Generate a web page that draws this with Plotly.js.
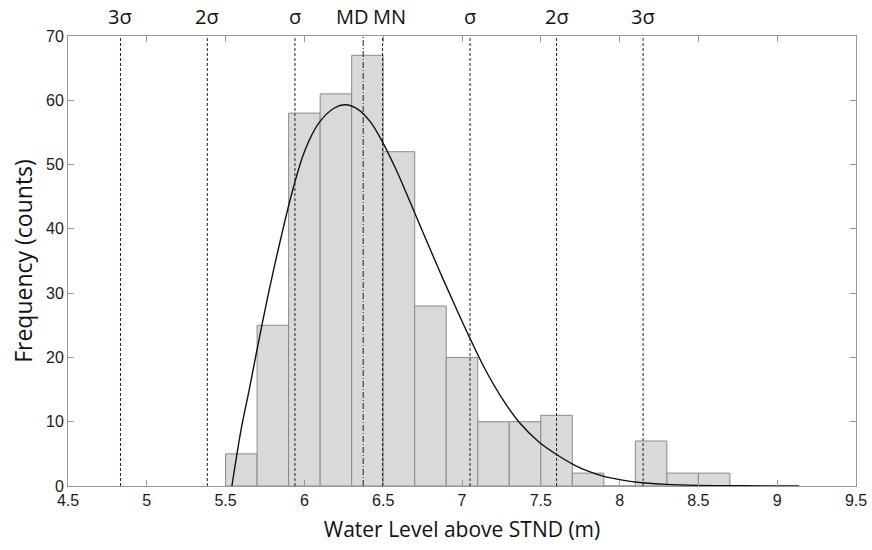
<!DOCTYPE html>
<html>
<head>
<meta charset="utf-8">
<script src="https://cdn.plot.ly/plotly-3.0.1.min.js"></script>
<style>html,body{margin:0;padding:0;background:#fff;}#chart{width:872px;height:550px;}</style>
</head>
<body>
<div id="chart"></div>
<script>
// Histogram bins (left edges, m) and counts
const binLeft = [5.5, 5.7, 5.9, 6.1, 6.3, 6.5, 6.7, 6.9, 7.1, 7.3, 7.5, 7.7, 7.9, 8.1, 8.3, 8.5];
const counts  = [5, 25, 58, 61, 67, 52, 28, 20, 10, 10, 11, 2, 0, 7, 2, 2];
const binWidth = 0.2;

// Fitted curve
const curveX = [5.54, 5.60, 5.65, 5.73, 5.79, 5.85, 5.92, 6.00, 6.09, 6.19, 6.26, 6.34, 6.42, 6.50, 6.58, 6.66, 6.76, 6.86, 6.96, 7.05, 7.15, 7.25, 7.36, 7.49, 7.60, 7.71, 7.80, 7.90, 8.00, 8.13, 8.30, 8.50, 8.80, 9.14];
const curveY = [0, 9, 15, 25, 32, 38.5, 45.5, 52, 56.4, 58.8, 59.3, 58.6, 56.6, 53.3, 49.3, 44.8, 39, 33.3, 27.8, 23, 18, 13.8, 10, 6.8, 4.9, 3.3, 2.3, 1.5, 1.0, 0.55, 0.25, 0.1, 0.03, 0];

// Reference lines
const sigmaX = [4.833, 5.384, 5.940, 7.051, 7.600, 8.149];
const sigmaLabels = ['3σ', '2σ', 'σ', 'σ', '2σ', '3σ'];
const medianX = 6.373;
const meanX = 6.496;

// Axis ticks
const xTicks = [4.5, 5, 5.5, 6, 6.5, 7, 7.5, 8, 8.5, 9, 9.5];
const xTickText = ['4.5', '5', '5.5', '6', '6.5', '7', '7.5', '8', '8.5', '9', '9.5'];
const yTicks = [0, 10, 20, 30, 40, 50, 60, 70];

const barX = binLeft.map(v => v + binWidth / 2);

const traces = [
  {
    type: 'bar', x: barX, y: counts, width: binWidth,
    marker: {color: '#d9d9d9', line: {color: '#8a8a8a', width: 1}},
    hoverinfo: 'skip'
  },
  {
    type: 'scatter', mode: 'lines', x: curveX, y: curveY,
    line: {color: '#111', width: 1.4, shape: 'spline', smoothing: 1},
    hoverinfo: 'skip'
  }
];

const shapes = [];
sigmaX.forEach(v => shapes.push({
  type: 'line', xref: 'x', yref: 'paper', x0: v, x1: v, y0: 0, y1: 1,
  line: {color: '#222', width: 1, dash: '3px,2px'}
}));
shapes.push({type: 'line', xref: 'x', yref: 'paper', x0: medianX, x1: medianX, y0: 0, y1: 1,
  line: {color: '#222', width: 1, dash: '6px,2px,1px,2px'}});
shapes.push({type: 'line', xref: 'x', yref: 'paper', x0: meanX, x1: meanX, y0: 0, y1: 1,
  line: {color: '#222', width: 1, dash: '3px,2px'}});

const topFont = {family: 'Open Sans, sans-serif', size: 20, color: '#111'};
const annotations = sigmaX.map((v, i) => ({
  x: v, y: 1, xref: 'x', yref: 'paper', text: sigmaLabels[i], showarrow: false,
  xanchor: 'center', yanchor: 'middle', yshift: 20, font: topFont
}));
annotations.push({x: medianX, y: 1, xref: 'x', yref: 'paper', text: 'MD', showarrow: false,
  xanchor: 'center', yanchor: 'middle', yshift: 20, xshift: -11, font: topFont});
annotations.push({x: meanX, y: 1, xref: 'x', yref: 'paper', text: 'MN', showarrow: false,
  xanchor: 'center', yanchor: 'middle', yshift: 20, xshift: 7, font: topFont});

const tickFont = {family: 'Liberation Sans, Arial, sans-serif', size: 16, color: '#1a1a1a'};

const layout = {
  width: 872, height: 550,
  margin: {l: 68, r: 16, t: 36, b: 64},
  paper_bgcolor: '#fff', plot_bgcolor: '#fff',
  showlegend: false,
  bargap: 0,
  xaxis: {
    range: [4.5, 9.5], tickmode: 'array', tickvals: xTicks, ticktext: xTickText,
    ticks: 'inside', ticklen: 6, tickcolor: '#999', tickwidth: 1,
    showline: true, linecolor: '#999', linewidth: 1, mirror: 'ticks',
    showgrid: false, zeroline: false, tickfont: tickFont, ticklabelstandoff: 0,
    title: {text: 'Water Level above STND (m)', font: {family: 'Open Sans, sans-serif', size: 21, color: '#111'}, standoff: 14}
  },
  yaxis: {
    range: [0, 70], tickmode: 'array', tickvals: yTicks,
    ticks: 'inside', ticklen: 6, tickcolor: '#999', tickwidth: 1,
    showline: true, linecolor: '#999', linewidth: 1, mirror: 'ticks',
    showgrid: false, zeroline: false, tickfont: tickFont,
    title: {text: 'Frequency (counts)', font: {family: 'Open Sans, sans-serif', size: 23, color: '#111'}, standoff: 6}
  },
  shapes: shapes,
  annotations: annotations
};

Plotly.newPlot('chart', traces, layout, {displayModeBar: false, staticPlot: true});
</script>
</body>
</html>
